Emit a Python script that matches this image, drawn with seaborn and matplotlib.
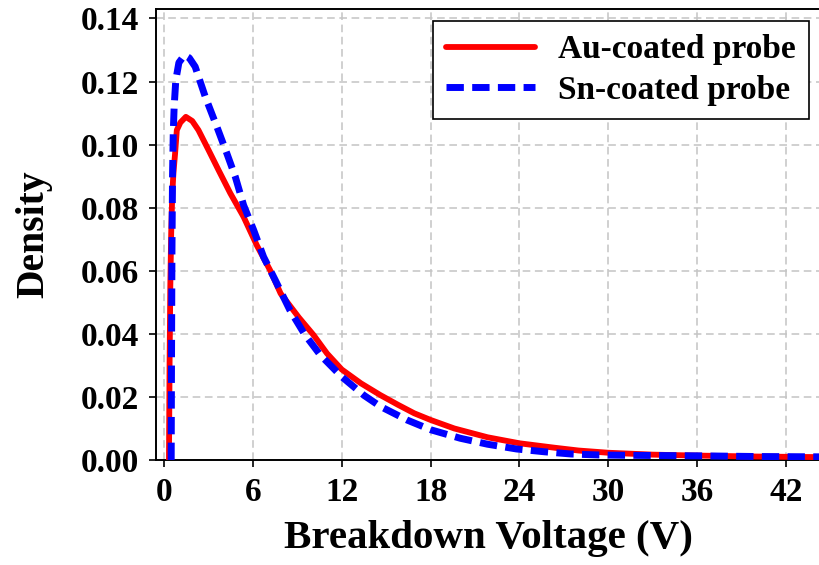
import matplotlib
matplotlib.use("Agg")
import matplotlib.pyplot as plt
import seaborn as sns
import pandas as pd

# Data
au_x = [0.33, 0.37, 0.42, 0.48, 0.55, 0.63, 0.74, 0.86, 1.1, 1.47, 1.9, 2.32, 3.0, 3.68,
        4.47, 5.37, 6.27, 7.18, 7.87, 9.1, 10.1, 11.0, 12.0, 13.3, 14.6, 15.8, 16.9, 18.0,
        19.6, 21.85, 24.0, 26.36, 28.0, 30.0, 33.0, 36.0, 40.0, 44.5]
au_y = [0.0, 0.030, 0.055, 0.072, 0.084, 0.091, 0.097, 0.1046, 0.107, 0.1088, 0.1075, 0.1046,
        0.0983, 0.0919, 0.0846, 0.0771, 0.0680, 0.0600, 0.0528, 0.0452, 0.0396, 0.0338, 0.0287,
        0.0243, 0.0206, 0.0175, 0.0148, 0.0127, 0.0100, 0.0072, 0.0053, 0.0039, 0.0030, 0.0023,
        0.0017, 0.0014, 0.0011, 0.0009]

sn_x = [0.48, 0.50, 0.53, 0.57, 0.62, 0.68, 0.79, 1.0, 1.38, 1.7, 2.1, 2.78, 3.57, 4.24,
        4.81, 5.37, 6.05, 6.72, 7.5, 8.5, 9.5, 10.55, 12.0, 13.5, 14.6, 16.4, 18.0,
        20.0, 21.85, 23.8, 25.7, 27.5, 29.3, 31.0, 36.5, 40.0, 44.5]
sn_y = [0.0, 0.030, 0.065, 0.090, 0.104, 0.112, 0.1204, 0.1260, 0.1284, 0.1275, 0.1247,
        0.1152, 0.1056, 0.0972, 0.0898, 0.0808, 0.0729, 0.0644, 0.0571, 0.0475, 0.0398,
        0.0333, 0.0264, 0.0205, 0.0170, 0.0127, 0.0096, 0.0069, 0.005, 0.0035, 0.0026,
        0.0019, 0.0016, 0.0015, 0.0013, 0.0011, 0.001]

labels = ["Au-coated probe", "Sn-coated probe"]
x_ticks = [0, 6, 12, 18, 24, 30, 36, 42]
y_ticks = [0.00, 0.02, 0.04, 0.06, 0.08, 0.10, 0.12, 0.14]

sns.set_theme(style="ticks")
plt.rcParams["font.family"] = ["Liberation Serif", "DejaVu Serif"]
plt.rcParams["font.weight"] = "bold"
for k in ["text.color", "axes.labelcolor", "xtick.color", "ytick.color"]:
    plt.rcParams[k] = "black"

fig = plt.figure(figsize=(8.19, 5.65), dpi=100)
ax = fig.add_axes([155.5 / 819, 1 - 460 / 565, 1.0 - 155.5 / 819 + 0.003, (460 - 9) / 565])

df_au = pd.DataFrame({"x": au_x, "y": au_y})
df_sn = pd.DataFrame({"x": sn_x, "y": sn_y})

sns.lineplot(data=df_au, x="x", y="y", ax=ax, color="#ff0000", linewidth=4.2,
             estimator=None, sort=False, label=labels[0], zorder=3)
sns.lineplot(data=df_sn, x="x", y="y", ax=ax, color="#0000ff", linewidth=5.0,
             estimator=None, sort=False, label=labels[1], zorder=4)
ax.lines[1].set_dashes([2.5, 1.2])

ax.set_xlim(-0.58, 44.4)
ax.set_ylim(0, 0.1430)
ax.set_xticks(x_ticks)
ax.set_yticks(y_ticks)
ax.set_yticklabels([f"{v:.2f}" for v in y_ticks])

ax.grid(True, color="#c4c4c4", linestyle=(0, (5, 3)), linewidth=1.1)
ax.set_axisbelow(True)

for s in ["left", "bottom", "top"]:
    ax.spines[s].set_color("black")
    ax.spines[s].set_linewidth(1.4)
ax.spines["right"].set_visible(False)

ax.tick_params(axis="both", direction="out", length=5, width=1.2, color="black",
               labelsize=24, pad=7, labelcolor="black")
for lab in ax.get_xticklabels() + ax.get_yticklabels():
    lab.set_fontweight("bold")

ax.set_xlabel("Breakdown Voltage (V)", fontsize=29.5, fontweight="bold", labelpad=9)
ax.set_ylabel("Density", fontsize=28.5, fontweight="bold", labelpad=20)

leg = ax.legend(loc="upper right", fontsize=24, frameon=True, fancybox=False,
                edgecolor="black", framealpha=1, handlelength=2.67, handletextpad=0.7,
                borderpad=0.4, labelspacing=0.28, borderaxespad=0.36)
leg.get_frame().set_linewidth(1.2)
for t in leg.get_texts():
    t.set_fontweight("bold")

fig.savefig("out.png", dpi=100)
